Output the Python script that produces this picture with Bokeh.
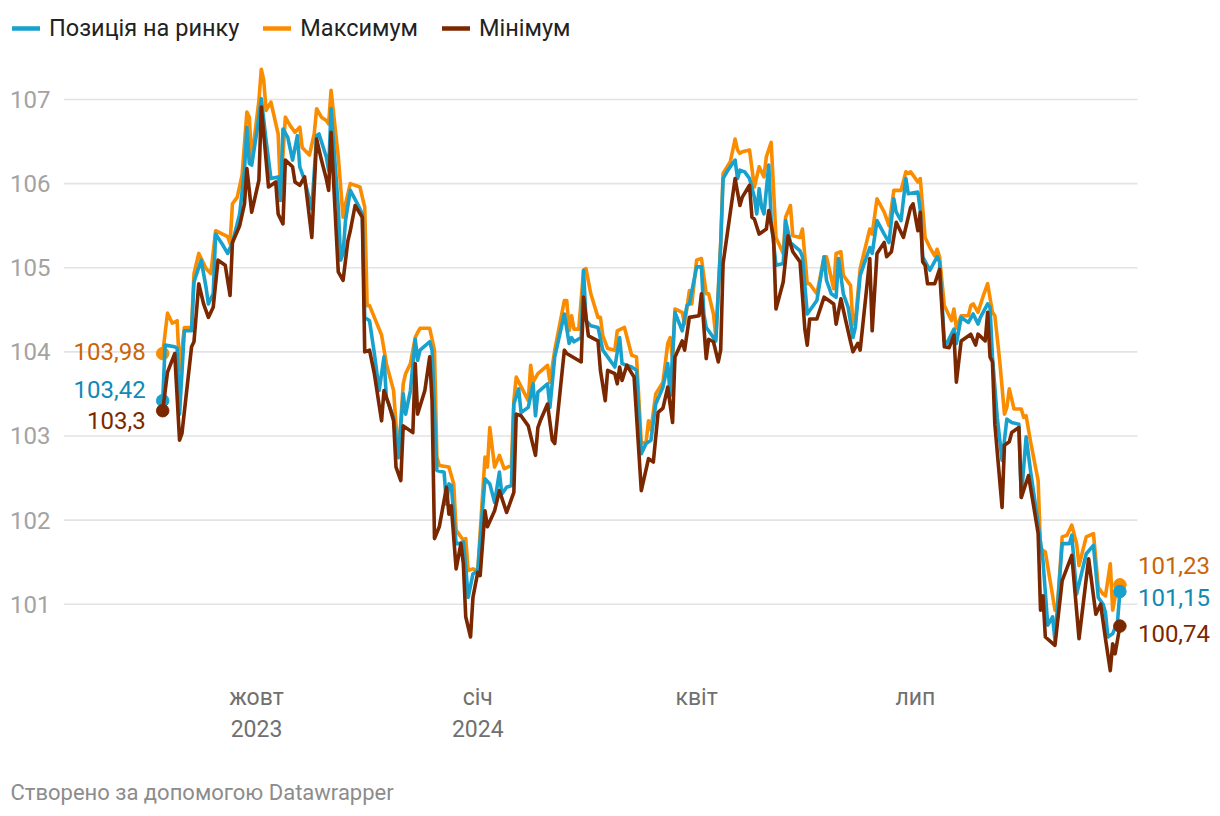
import pandas as pd
from bokeh.plotting import figure
from bokeh.models import Range1d, FixedTicker, Legend, LegendItem, Label
from bokeh.embed import file_html
from bokeh.resources import INLINE

# ---------------- data ----------------
start_date = "2023-08-23"          # day 0 of the series

series_names = ["Позиція на ринку", "Максимум", "Мінімум"]

max_days = [0, 2, 4, 6, 7, 9, 12, 13, 15, 18, 20, 22, 27, 28, 29, 31, 33, 35, 36, 37,
            40, 41, 42, 43, 45, 48, 49, 51, 53, 55, 57, 58, 61, 63, 64, 66, 68, 69, 70, 73,
            75, 76, 78, 82, 84, 85, 86, 91, 93, 96, 97, 98, 100, 101, 103, 105, 106, 107, 111, 113,
            114, 115, 119, 121, 122, 125, 126, 127, 129, 131, 134, 135, 136, 138, 140, 142, 145, 146, 147, 152,
            153, 154, 156, 160, 161, 163, 167, 168, 169, 170, 171, 173, 175, 176, 178, 181, 182, 183, 185, 188,
            189, 192, 195, 197, 199, 201, 202, 203, 205, 208, 210, 211, 212, 213, 216, 217, 219, 220, 222, 224,
            226, 227, 229, 230, 232, 233, 236, 238, 239, 240, 241, 244, 246, 248, 250, 251, 253, 255, 258, 259,
            261, 262, 265, 266, 268, 269, 272, 275, 276, 279, 280, 282, 283, 286, 287, 288, 290, 294, 295, 297,
            300, 302, 304, 307, 309, 310, 311, 314, 315, 317, 319, 321, 322, 323, 325, 328, 329, 330, 332, 335,
            336, 337, 339, 341, 343, 345, 346, 348, 350, 351, 352, 354, 357, 358, 359, 361, 364, 365, 367, 371,
            372, 374, 376, 378, 380, 381, 384, 387, 389, 391, 392, 394, 395, 397, 398]
max_vals = [103.98, 104.46, 104.34, 104.37, 103.78, 104.29, 104.29, 104.93, 105.17, 104.99,
            104.93, 105.44, 105.37, 105.29, 105.76, 105.84, 106.10, 106.85, 106.79, 106.28,
            106.99, 107.36, 107.23, 106.87, 106.97, 106.59, 105.88, 106.79, 106.69, 106.61,
            106.67, 106.43, 106.34, 106.59, 106.89, 106.79, 106.75, 106.71, 107.11, 106.32,
            105.60, 105.76, 106.00, 105.96, 105.72, 104.55, 104.55, 104.20, 103.86, 103.54,
            103.14, 102.74, 103.62, 103.74, 103.86, 104.17, 104.23, 104.28, 104.28, 104.02,
            102.75, 102.65, 102.63, 102.43, 101.88, 101.76, 101.78, 101.40, 101.42, 101.40,
            102.75, 102.63, 103.10, 102.63, 102.77, 102.61, 102.65, 103.42, 103.70, 103.42,
            103.84, 103.64, 103.74, 103.84, 103.64, 104.02, 104.61, 104.61, 104.25, 104.43,
            104.27, 104.27, 104.97, 104.99, 104.69, 104.41, 104.41, 104.19, 104.04, 104.02,
            104.25, 104.29, 103.96, 103.94, 102.91, 102.93, 103.18, 103.07, 103.50, 103.64,
            104.10, 104.17, 103.90, 104.51, 104.47, 104.33, 104.73, 104.57, 105.09, 105.11,
            104.69, 104.69, 104.45, 104.17, 105.29, 106.12, 106.26, 106.53, 106.40, 106.36,
            106.38, 106.40, 105.96, 106.20, 106.08, 106.32, 106.49, 105.36, 105.17, 105.60,
            105.74, 105.38, 105.36, 105.46, 104.81, 104.81, 104.69, 105.13, 105.13, 104.75,
            105.17, 105.19, 104.91, 104.79, 104.33, 104.37, 104.99, 105.46, 105.40, 105.82,
            105.66, 105.50, 105.92, 105.92, 106.14, 106.12, 106.14, 106.02, 106.06, 105.36,
            105.24, 105.14, 105.22, 105.13, 104.55, 104.37, 104.51, 104.28, 104.43, 104.43,
            104.55, 104.57, 104.47, 104.65, 104.81, 104.47, 104.43, 103.90, 103.26, 103.34,
            103.56, 103.32, 103.32, 103.22, 103.24, 102.91, 102.47, 101.66, 101.62, 100.93,
            100.96, 101.80, 101.82, 101.94, 101.72, 101.46, 101.80, 101.84, 101.20, 101.12,
            101.10, 101.48, 100.93, 101.24, 101.23]

pos_days = [0, 1, 5, 6, 7, 9, 12, 13, 16, 18, 19, 21, 22, 25, 27, 29, 32, 34, 35, 36,
            37, 39, 41, 43, 45, 48, 49, 50, 52, 54, 56, 57, 59, 62, 64, 65, 68, 69, 70, 73,
            74, 75, 76, 78, 81, 83, 84, 86, 88, 90, 92, 93, 96, 98, 100, 101, 103, 105, 106, 107,
            111, 112, 114, 117, 118, 119, 120, 122, 123, 125, 126, 127, 129, 131, 134, 136, 138, 140, 141, 143,
            145, 146, 148, 149, 152, 154, 155, 156, 160, 161, 163, 167, 169, 170, 171, 174, 175, 176, 178, 181,
            183, 188, 190, 191, 195, 197, 199, 201, 203, 205, 208, 210, 211, 213, 216, 218, 219, 222, 224, 225,
            226, 230, 232, 233, 235, 238, 239, 240, 242, 244, 246, 247, 248, 249, 250, 252, 253, 255, 258, 259,
            261, 265, 266, 268, 270, 272, 275, 276, 278, 280, 281, 283, 285, 287, 288, 290, 294, 295, 297, 300,
            302, 304, 305, 307, 309, 310, 314, 315, 316, 319, 322, 323, 325, 326, 329, 330, 332, 335, 337, 339,
            340, 343, 344, 345, 347, 349, 351, 353, 356, 357, 359, 361, 364, 366, 368, 370, 371, 374, 377, 378,
            380, 384, 387, 389, 391, 392, 393, 395, 397, 398]
pos_vals = [103.42, 104.08, 104.06, 104.04, 103.26, 104.25, 104.25, 104.83, 105.09, 104.77,
            104.57, 104.69, 105.40, 105.27, 105.17, 105.30, 105.64, 106.16, 106.67, 106.24,
            106.22, 106.59, 107.01, 106.51, 106.06, 106.08, 105.80, 106.65, 106.55, 106.28,
            106.57, 106.20, 106.04, 105.70, 106.57, 106.59, 106.32, 106.16, 106.89, 105.72,
            105.09, 105.17, 105.56, 105.92, 105.76, 105.64, 104.41, 104.37, 103.98, 103.54,
            103.94, 103.45, 103.22, 102.75, 103.50, 103.26, 103.54, 104.15, 103.90, 104.02,
            104.12, 104.02, 102.59, 102.57, 102.19, 102.43, 102.41, 101.72, 101.72, 101.74,
            101.44, 101.08, 101.36, 101.40, 102.49, 102.43, 102.21, 102.57, 102.31, 102.39,
            102.41, 103.38, 103.56, 103.28, 103.34, 103.62, 103.24, 103.52, 103.62, 103.34,
            103.94, 104.45, 104.10, 104.17, 104.12, 104.17, 104.97, 104.37, 104.31, 104.29,
            104.02, 103.82, 104.17, 103.86, 103.82, 103.78, 102.79, 102.91, 102.95, 103.38,
            103.58, 103.86, 103.48, 104.47, 104.25, 104.55, 104.57, 105.01, 105.01, 104.45,
            104.29, 104.13, 105.27, 106.06, 106.16, 106.28, 106.06, 106.16, 106.14, 106.06,
            105.84, 105.64, 105.94, 105.72, 105.64, 106.22, 105.56, 105.03, 105.05, 105.56,
            105.30, 105.20, 105.13, 104.45, 104.53, 104.61, 105.13, 104.85, 104.69, 104.65,
            105.11, 104.69, 104.53, 104.17, 104.29, 104.91, 105.24, 105.17, 105.56, 105.40,
            105.30, 105.82, 105.66, 105.56, 106.06, 105.88, 105.90, 105.68, 105.13, 104.97,
            105.13, 105.07, 104.13, 104.10, 104.27, 104.10, 104.41, 104.35, 104.45, 104.33,
            104.41, 104.57, 104.53, 103.94, 103.22, 102.71, 103.20, 103.16, 103.14, 102.27,
            102.99, 102.55, 101.96, 101.52, 100.75, 100.85, 100.57, 101.72, 101.72, 101.82,
            101.12, 101.60, 101.70, 101.08, 101.00, 100.90, 100.61, 100.65, 100.79, 101.15]

min_days = [0, 2, 5, 7, 8, 12, 13, 15, 17, 19, 21, 23, 26, 27, 28, 29, 32, 34, 35, 37,
            40, 41, 44, 47, 48, 50, 51, 54, 55, 57, 59, 62, 64, 66, 68, 69, 70, 73, 75, 77,
            78, 80, 83, 84, 86, 88, 91, 92, 94, 96, 97, 99, 100, 104, 105, 106, 109, 111, 112, 113,
            115, 118, 119, 120, 122, 124, 125, 126, 128, 129, 131, 132, 134, 135, 138, 140, 143, 146, 147, 149,
            152, 155, 156, 157, 160, 162, 163, 167, 168, 174, 175, 177, 181, 182, 184, 185, 188, 189, 190, 191,
            193, 196, 199, 202, 204, 206, 208, 210, 212, 213, 216, 217, 219, 223, 224, 226, 227, 229, 231, 232,
            233, 238, 240, 241, 244, 245, 246, 248, 251, 252, 254, 255, 258, 260, 262, 265, 267, 268, 269, 272,
            275, 277, 279, 280, 282, 284, 286, 287, 289, 290, 294, 295, 297, 300, 301, 303, 305, 308, 311, 312,
            314, 315, 316, 317, 318, 321, 323, 325, 327, 329, 330, 332, 336, 338, 339, 342, 343, 344, 345, 346,
            349, 350, 352, 353, 356, 357, 360, 362, 364, 365, 366, 367, 371, 374, 378, 381, 385, 388, 390, 392,
            394, 395, 396, 398]
min_vals = [103.30, 103.76, 103.98, 102.95, 103.03, 104.06, 104.12, 104.81, 104.57, 104.41,
            104.53, 105.09, 105.03, 104.85, 104.67, 105.30, 105.50, 105.76, 106.18, 105.66,
            106.04, 106.91, 105.96, 106.02, 105.64, 105.52, 106.28, 106.20, 106.02, 105.98,
            106.08, 105.36, 106.53, 106.28, 106.06, 105.92, 106.61, 104.95, 104.85, 105.32,
            105.44, 105.74, 105.60, 104.00, 104.02, 103.74, 103.18, 103.54, 103.38, 103.18,
            102.63, 102.47, 103.12, 103.04, 103.86, 103.26, 103.54, 103.94, 103.42, 101.78,
            101.92, 102.39, 102.07, 102.17, 101.42, 101.72, 101.48, 100.85, 100.61, 101.08,
            101.38, 101.34, 102.11, 101.92, 102.11, 102.35, 102.09, 102.33, 103.26, 103.24,
            103.12, 102.77, 103.10, 103.18, 103.38, 102.95, 102.91, 104.02, 103.98, 103.88,
            104.65, 104.19, 104.13, 103.78, 103.42, 103.78, 103.74, 103.62, 103.82, 103.66,
            103.84, 103.70, 102.35, 102.73, 102.69, 103.28, 103.33, 103.58, 103.16, 103.94,
            104.13, 104.02, 104.41, 104.43, 104.69, 103.92, 104.15, 104.12, 103.88, 104.02,
            105.05, 106.06, 105.74, 105.84, 105.98, 105.60, 105.58, 105.40, 105.46, 105.68,
            105.34, 104.51, 104.83, 105.38, 105.19, 105.07, 104.27, 104.08, 104.39, 104.39,
            104.65, 104.61, 104.57, 104.33, 104.63, 104.37, 104.12, 104.00, 104.10, 104.02,
            105.11, 104.25, 105.17, 105.30, 105.13, 105.19, 105.54, 105.36, 105.72, 105.76,
            105.44, 105.66, 105.07, 105.03, 104.81, 104.81, 104.98, 104.06, 104.05, 104.20,
            103.64, 104.13, 104.21, 104.08, 104.21, 104.13, 104.47, 103.94, 103.88, 103.14,
            102.15, 102.89, 102.93, 103.04, 103.10, 102.27, 102.53, 102.19, 101.84, 100.93,
            101.10, 100.61, 100.51, 101.28, 101.58, 100.59, 101.54, 100.88, 101.00, 100.59,
            100.21, 100.53, 100.41, 100.74]

y_ticks = [101, 102, 103, 104, 105, 106, 107]
x_tick_dates = ["2023-10-01", "2024-01-01", "2024-04-01", "2024-07-01"]
x_tick_labels = ["жовт\n2023", "січ\n2024", "квіт", "лип"]
footer_text = "Створено за допомогою Datawrapper"

# ---------------- styling ----------------
BLUE, ORANGE, BROWN = "#18a1cd", "#fa8c00", "#7b2800"
LBL_BLUE, LBL_ORANGE, LBL_BROWN = "#0f8ab5", "#c8650a", "#7b2800"
FONT = "Roboto"
W = 1212
LEG_H = 64          # legend strip
MAIN_H = 686        # chart
FOOT_H = 62         # credit line
FRAME_LEFT = 63
FRAME_BOTTOM = 611  # inside the chart figure

t0 = pd.Timestamp(start_date)


def to_dates(days):
    return [t0 + pd.Timedelta(days=d) for d in days]


def to_ms(ts):
    return pd.Timestamp(ts).value / 1e6


def fmt(v):
    s = ("%.2f" % v).rstrip("0").rstrip(".")
    return s.replace(".", ",")


def strip(height):
    f = figure(width=W, height=height, toolbar_location=None, output_backend="svg",
               x_axis_location=None, y_axis_location=None,
               x_range=Range1d(0, 1), y_range=Range1d(0, 1),
               min_border=0, min_border_left=0, min_border_right=0,
               min_border_top=0, min_border_bottom=0, outline_line_color=None)
    f.grid.visible = False
    return f


# ---------------- legend strip ----------------
leg = strip(LEG_H)
leg_r = []
for c in (BLUE, ORANGE, BROWN):
    # swatch renderers: their (off-range) points are never visible, only the legend glyph is
    leg_r.append(leg.line(x=[5, 6], y=[5, 5], line_color=c, line_width=4.5, line_cap="round"))
legend = Legend(items=[LegendItem(label=n, renderers=[r]) for n, r in zip(series_names, leg_r)],
                orientation="horizontal", location=(12, 22),
                glyph_width=28, glyph_height=20, label_standoff=9, spacing=24,
                padding=0, margin=0, border_line_color=None, background_fill_alpha=0,
                label_text_font=FONT, label_text_font_size="23.5px", label_text_color="#222222")
leg.add_layout(legend)

# ---------------- main chart ----------------
x_range = Range1d(t0 - pd.Timedelta(days=41.25), t0 + pd.Timedelta(days=436.5))
y_range = Range1d(100.1522, 107.4162)
grid_end = t0 + pd.Timedelta(days=405.3)   # where the horizontal rules stop

p = figure(width=W, height=MAIN_H, x_axis_type="datetime", toolbar_location=None,
           output_backend="svg", x_range=x_range, y_range=y_range,
           min_border_left=FRAME_LEFT, min_border_right=0, min_border_top=0,
           min_border_bottom=MAIN_H - FRAME_BOTTOM, outline_line_color=None)

p.xgrid.grid_line_color = None
p.ygrid.grid_line_color = None

# horizontal rules at the y ticks
p.segment(x0=[x_range.start] * len(y_ticks), x1=[grid_end] * len(y_ticks),
          y0=y_ticks, y1=y_ticks, line_color="#e3e3e3", line_width=1.6)

p.yaxis.ticker = FixedTicker(ticks=y_ticks)
p.yaxis.axis_line_color = None
p.yaxis.major_tick_line_color = None
p.yaxis.minor_tick_line_color = None
p.yaxis.major_tick_out = 0
p.yaxis.major_label_standoff = 13
p.yaxis.major_label_text_font = FONT
p.yaxis.major_label_text_font_size = "24px"
p.yaxis.major_label_text_color = "#a3a3a3"

xt = [to_ms(d) for d in x_tick_dates]
p.xaxis.ticker = FixedTicker(ticks=xt)
p.xaxis.major_label_overrides = {k: v for k, v in zip(xt, x_tick_labels)}
p.xaxis.axis_line_color = None
p.xaxis.major_tick_line_color = None
p.xaxis.minor_tick_line_color = None
p.xaxis.major_tick_out = 0
p.xaxis.major_label_standoff = 8
p.xaxis.major_label_text_font = FONT
p.xaxis.major_label_text_font_size = "23px"
p.xaxis.major_label_text_color = "#707070"

series = [
    (max_days, max_vals, ORANGE, LBL_ORANGE, 2, 19),
    (pos_days, pos_vals, BLUE, LBL_BLUE, 11, -5.6),
    (min_days, min_vals, BROWN, LBL_BROWN, -10, -7),
]
for days, vals, col, lcol, off_start, off_end in series:
    dts = to_dates(days)
    p.line(x=dts, y=vals, line_color=col, line_width=3.6, line_join="round")
    p.scatter(x=[dts[0], dts[-1]], y=[vals[0], vals[-1]], size=12.5,
              fill_color=col, line_color=col)
    p.add_layout(Label(x=to_ms(dts[0]), y=vals[0], x_offset=-17, y_offset=off_start,
                       text=fmt(vals[0]), text_align="right", text_baseline="middle",
                       text_font=FONT, text_font_size="24px", text_color=lcol))
    p.add_layout(Label(x=to_ms(dts[-1]), y=vals[-1], x_offset=18, y_offset=off_end,
                       text=fmt(vals[-1]), text_align="left", text_baseline="middle",
                       text_font=FONT, text_font_size="24px", text_color=lcol))

# ---------------- credit line ----------------
foot = strip(FOOT_H)
foot.add_layout(Label(x=10, y=FOOT_H - 42, x_units="screen", y_units="screen",
                      text=footer_text, text_align="left", text_baseline="middle",
                      text_font=FONT, text_font_size="22px", text_color="#8c8c8c"))

open("out.html", "w").write(file_html([leg, p, foot], INLINE))
